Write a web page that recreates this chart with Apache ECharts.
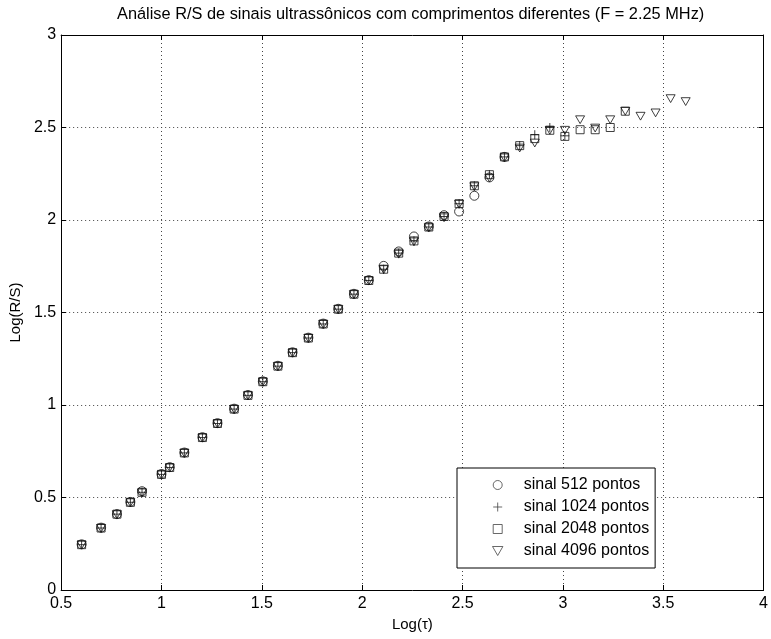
<!DOCTYPE html>
<html>
<head>
<meta charset="utf-8">
<script src="https://cdn.jsdelivr.net/npm/echarts@6/dist/echarts.min.js"></script>
<style>html,body{margin:0;padding:0;background:#fff}#c{width:771px;height:639px}</style>
</head>
<body>
<div id="c"></div>
<script>
const logTau = [0.602, 0.699, 0.778, 0.845, 0.903, 1.000, 1.041, 1.114, 1.204, 1.279, 1.362, 1.431, 1.505, 1.580, 1.653, 1.732, 1.806, 1.881, 1.959, 2.033, 2.107, 2.182, 2.258, 2.332, 2.408, 2.483, 2.559, 2.634, 2.709, 2.785, 2.860, 2.935, 3.010, 3.086, 3.161, 3.236, 3.311, 3.387, 3.462, 3.537, 3.612];
const rs512 = [0.247, 0.337, 0.410, 0.476, 0.534, 0.627, 0.664, 0.743, 0.826, 0.902, 0.980, 1.054, 1.128, 1.212, 1.285, 1.364, 1.440, 1.520, 1.601, 1.675, 1.752, 1.830, 1.911, 1.965, 2.026, 2.046, 2.131, 2.230, 2.341];
const rs1024 = [0.245, 0.335, 0.410, 0.474, 0.528, 0.625, 0.662, 0.741, 0.824, 0.900, 0.978, 1.052, 1.126, 1.210, 1.283, 1.362, 1.438, 1.518, 1.599, 1.673, 1.734, 1.821, 1.887, 1.962, 2.019, 2.088, 2.185, 2.245, 2.341, 2.402, 2.461, 2.500, 2.455];
const rs2048 = [0.245, 0.335, 0.410, 0.474, 0.528, 0.625, 0.662, 0.741, 0.824, 0.900, 0.978, 1.052, 1.126, 1.210, 1.283, 1.362, 1.438, 1.518, 1.599, 1.673, 1.734, 1.821, 1.887, 1.962, 2.019, 2.088, 2.185, 2.245, 2.341, 2.402, 2.440, 2.485, 2.452, 2.488, 2.488, 2.500, 2.588];
const rs4096 = [0.243, 0.333, 0.407, 0.472, 0.525, 0.622, 0.660, 0.739, 0.822, 0.898, 0.976, 1.050, 1.124, 1.208, 1.281, 1.360, 1.436, 1.516, 1.597, 1.671, 1.732, 1.815, 1.882, 1.958, 2.012, 2.085, 2.180, 2.227, 2.336, 2.389, 2.416, 2.485, 2.485, 2.542, 2.497, 2.542, 2.588, 2.561, 2.579, 2.656, 2.640];
const seriesNames = ['sinal 512 pontos', 'sinal 1024 pontos', 'sinal 2048 pontos', 'sinal 4096 pontos'];

const FONT = '"Liberation Sans", Arial, Helvetica, sans-serif';
const pairs = ys => ys.map((y, i) => [logTau[i], y]);
const mk = (name, ys, symbol, size) => ({
  name, type: 'scatter', data: pairs(ys), symbol, symbolSize: size, symbolKeepAspect: true,
  itemStyle: { color: 'rgba(0,0,0,0)', borderColor: '#111', borderWidth: 1 },
  emphasis: { disabled: true }, animation: false
});
const axCommon = {
  axisLine: { show: true, onZero: false, lineStyle: { color: '#000', width: 1 } },
  axisTick: { show: true, inside: true, length: 5, lineStyle: { color: '#000' } },
};
const chart = echarts.init(document.getElementById('c'), null, { renderer: 'canvas' });
chart.setOption({
  backgroundColor: '#fff',
  animation: false,
  title: {
    text: 'Análise R/S de sinais ultrassônicos com comprimentos diferentes (F = 2.25 MHz)',
    left: 112, top: 1,
    textStyle: { fontFamily: FONT, fontSize: 16.35, fontWeight: 'normal', color: '#000' }
  },
  grid: { left: 60, right: 7, top: 35, bottom: 49 },
  legend: {
    orient: 'vertical', left: 457, top: 468,
    padding: [9, 6, 9, 35],
    itemWidth: 42, itemHeight: 9, itemGap: 6,
    symbolKeepAspect: true,
    itemStyle: { borderWidth: 1, borderColor: '#444', color: 'rgba(0,0,0,0)' },
    backgroundColor: '#fff', borderColor: '#000', borderWidth: 1, borderRadius: 0,
    textStyle: { fontFamily: FONT, fontSize: 16, color: '#000', lineHeight: 16 },
    selectedMode: false,
    data: seriesNames
  },
  xAxis: [
    Object.assign({}, axCommon, {
      type: 'value', min: 0.5, max: 4, interval: 0.5, position: 'bottom',
      name: 'Log(τ)', nameLocation: 'middle', nameGap: 24,
      nameTextStyle: { fontFamily: FONT, fontSize: 15, color: '#000' },
      axisLabel: { fontFamily: FONT, fontSize: 16, color: '#000', margin: 6 },
      splitLine: { show: true, lineStyle: { color: '#444', type: [1, 3], width: 1 } }
    }),
    Object.assign({}, axCommon, {
      type: 'value', min: 0.5, max: 4, interval: 0.5, position: 'top',
      axisLabel: { show: false }, splitLine: { show: false }
    })
  ],
  yAxis: [
    Object.assign({}, axCommon, {
      type: 'value', min: 0, max: 3, interval: 0.5, position: 'left',
      name: 'Log(R/S)', nameLocation: 'middle', nameGap: 35,
      nameTextStyle: { fontFamily: FONT, fontSize: 15, color: '#000' },
      axisLabel: { fontFamily: FONT, fontSize: 16, color: '#000', margin: 5 },
      splitLine: { show: true, lineStyle: { color: '#444', type: [1, 3], width: 1 } }
    }),
    Object.assign({}, axCommon, {
      type: 'value', min: 0, max: 3, interval: 0.5, position: 'right',
      axisLabel: { show: false }, splitLine: { show: false }
    })
  ],
  series: [
    mk(seriesNames[0], rs512, 'circle', 9),
    mk(seriesNames[1], rs1024, 'path://M5,0 L5,10 M0,5 L10,5', 9),
    mk(seriesNames[2], rs2048, 'path://M0,0 L10,0 L10,10 L0,10 Z', 8),
    mk(seriesNames[3], rs4096, 'path://M0,0 L10,0 L5,8.66 Z', 9)
  ]
});
</script>
</body>
</html>
